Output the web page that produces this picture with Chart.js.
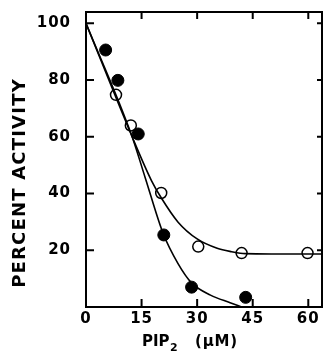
<!DOCTYPE html>
<html>
<head>
<meta charset="utf-8">
<script src="https://cdn.jsdelivr.net/npm/chart.js@4/dist/chart.umd.min.js"></script>
<style>
  html, body { margin: 0; padding: 0; background: #fff; }
  #wrap { width: 329px; height: 355px; }
</style>
</head>
<body>
<div id="wrap"><canvas id="c" width="329" height="355"></canvas></div>
<script>
const filledX = [5.3, 8.6, 14.1, 21.0, 28.5, 43.1];
const filledY = [90.6, 79.9, 61.0, 25.4, 7.0, 3.4];
const openX = [8.1, 12.1, 20.3, 30.3, 42.0, 59.8];
const openY = [74.8, 64.0, 40.2, 21.3, 19.0, 19.0];

// hand drawn fit curves
const filledCurveX = [0, 12.4, 16, 20.8, 24.8, 28.5, 33.6, 38.9, 42];
const filledCurveY = [100, 60.2, 45.5, 26, 15.4, 8.5, 4.2, 1.5, 0];
const openCurveX = [0, 12.4, 17.7, 20.3, 24.8, 30, 35.4, 39.3, 43, 50, 63.7];
const openCurveY = [100, 60.2, 44.5, 38.5, 30, 24, 20.7, 19.5, 18.8, 18.7, 18.7];

const xTicks = [0, 15, 30, 45, 60];
const yTicks = [20, 40, 60, 80, 100];

const pts = (xs, ys) => xs.map((x, i) => ({ x: x, y: ys[i] }));

Chart.defaults.font.family = 'DejaVu Sans';
Chart.defaults.font.weight = 'bold';
Chart.defaults.font.size = 15;
Chart.defaults.color = '#000';

const frame = {
    id: 'frame',
    beforeDraw(chart) {
        chart.ctx.letterSpacing = '1px';
    },
    beforeDatasetsDraw(chart) {
        const ctx = chart.ctx, a = chart.chartArea;
        const xs = chart.scales.x, ys = chart.scales.y;
        ctx.save();
        ctx.strokeStyle = '#000';
        ctx.lineWidth = 2;
        ctx.strokeRect(a.left, a.top, a.right - a.left, a.bottom - a.top);
        ctx.beginPath();
        xTicks.forEach(v => {
            if (v === 0) return;
            let px = xs.getPixelForValue(v);
            ctx.moveTo(px, a.bottom); ctx.lineTo(px, a.bottom - 8);
            ctx.moveTo(px, a.top); ctx.lineTo(px, a.top + 7);
        });
        yTicks.forEach(v => {
            let py = ys.getPixelForValue(v);
            ctx.moveTo(a.left, py); ctx.lineTo(a.left + 8, py);
            ctx.moveTo(a.right, py); ctx.lineTo(a.right - 5, py);
        });
        ctx.stroke();
        ctx.restore();
    },
    afterDraw(chart) {
        const ctx = chart.ctx;
        ctx.save();
        ctx.fillStyle = '#000';
        // y title
        ctx.font = 'bold 18px "DejaVu Sans"';
        ctx.letterSpacing = '1.2px';
        ctx.translate(25, 183);
        ctx.rotate(-Math.PI / 2);
        ctx.textAlign = 'center';
        ctx.textBaseline = 'alphabetic';
        ctx.fillText('PERCENT ACTIVITY', 0, 0);
        ctx.restore();
        ctx.save();
        ctx.fillStyle = '#000';
        ctx.textAlign = 'left';
        ctx.textBaseline = 'alphabetic';
        ctx.font = 'bold 15px "DejaVu Sans"';
        ctx.letterSpacing = '0px';
        ctx.fillText('PIP', 142, 346);
        ctx.font = 'bold 11px "DejaVu Sans"';
        ctx.fillText('2', 170, 351);
        ctx.font = 'bold 15px "DejaVu Sans"';
        ctx.letterSpacing = '0.8px';
        ctx.fillText('(\u03bcM)', 195, 346);
        ctx.restore();
    }
};

new Chart(document.getElementById('c'), {
    type: 'scatter',
    data: {
        datasets: [
            { data: pts(filledCurveX, filledCurveY), showLine: true, pointRadius: 0, borderColor: '#000', borderWidth: 1.6, cubicInterpolationMode: 'monotone' },
            { data: pts(openCurveX, openCurveY), showLine: true, pointRadius: 0, borderColor: '#000', borderWidth: 1.6, cubicInterpolationMode: 'monotone' },
            { data: pts(filledX, filledY), pointRadius: 6, backgroundColor: '#000', borderColor: '#000', borderWidth: 1 },
            { data: pts(openX, openY), pointRadius: 5.5, backgroundColor: '#fff', borderColor: '#000', borderWidth: 1.5 }
        ]
    },
    options: {
        responsive: false,
        animation: false,
        layout: { padding: { top: 12, right: 1, left: 0, bottom: 0 } },
        plugins: { legend: { display: false }, tooltip: { enabled: false } },
        scales: {
            x: {
                type: 'linear', min: 0, max: 63.7,
                grid: { display: false, drawTicks: false }, border: { display: false },
                ticks: { stepSize: 15, includeBounds: false, padding: 3 },
                afterFit: s => { s.height = 48; s.paddingLeft = 0; s.paddingRight = 0; }
            },
            y: {
                type: 'linear', min: 0, max: 104,
                grid: { display: false, drawTicks: false }, border: { display: false },
                ticks: { stepSize: 20, includeBounds: false, padding: 15, callback: v => v === 0 ? '' : v },
                afterFit: s => { s.width = 86; s.paddingTop = 0; s.paddingBottom = 0; }
            }
        }
    },
    plugins: [frame]
});
</script>
</body>
</html>
